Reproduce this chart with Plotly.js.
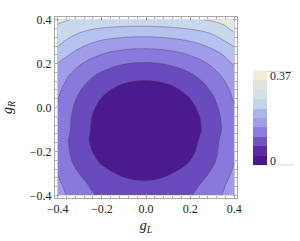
<!DOCTYPE html>
<html>
<head>
<meta charset="utf-8">
<script src="https://cdn.plot.ly/plotly-3.0.1.min.js"></script>
<style>html,body{margin:0;padding:0;background:#fff;}#chart{width:300px;height:241px;}</style>
</head>
<body>
<div id="chart"></div>
<script>
// Grid coordinates (g_L across, g_R up)
const gL = [-0.4, -0.35, -0.3, -0.25, -0.2, -0.15, -0.1, -0.05, 0.0, 0.05, 0.1, 0.15, 0.2, 0.25, 0.3, 0.35, 0.4];
const gR = [-0.4, -0.35, -0.3, -0.25, -0.2, -0.15, -0.1, -0.05, 0.0, 0.05, 0.1, 0.15, 0.2, 0.25, 0.3, 0.35, 0.4];
// Surface values estimated from the contour bands (rows follow gR, columns follow gL)
const zRows = [
  [0.1684, 0.1443, 0.1235, 0.1060, 0.0918, 0.0809, 0.0733, 0.0691, 0.0681, 0.0704, 0.0760, 0.0849, 0.0971, 0.1126, 0.1314, 0.1535, 0.1789],
  [0.1594, 0.1346, 0.1132, 0.0952, 0.0805, 0.0693, 0.0615, 0.0571, 0.0561, 0.0584, 0.0642, 0.0734, 0.0860, 0.1020, 0.1213, 0.1441, 0.1703],
  [0.1473, 0.1210, 0.0984, 0.0793, 0.0638, 0.0519, 0.0436, 0.0390, 0.0379, 0.0404, 0.0465, 0.0562, 0.0696, 0.0865, 0.1070, 0.1311, 0.1588],
  [0.1375, 0.1086, 0.0837, 0.0628, 0.0458, 0.0328, 0.0237, 0.0186, 0.0174, 0.0201, 0.0269, 0.0375, 0.0521, 0.0707, 0.0932, 0.1197, 0.1501],
  [0.1335, 0.1021, 0.0750, 0.0522, 0.0337, 0.0196, 0.0097, 0.0041, 0.0028, 0.0058, 0.0131, 0.0247, 0.0406, 0.0608, 0.0853, 0.1142, 0.1473],
  [0.1324, 0.0992, 0.0705, 0.0464, 0.0269, 0.0118, 0.0014, 0.0000, 0.0000, 0.0000, 0.0050, 0.0173, 0.0341, 0.0555, 0.0815, 0.1119, 0.1470],
  [0.1398, 0.1049, 0.0747, 0.0491, 0.0282, 0.0119, 0.0003, 0.0000, 0.0000, 0.0000, 0.0003, 0.0119, 0.0282, 0.0491, 0.0747, 0.1049, 0.1398],
  [0.1409, 0.1064, 0.0765, 0.0512, 0.0305, 0.0145, 0.0030, 0.0000, 0.0000, 0.0000, 0.0032, 0.0149, 0.0311, 0.0520, 0.0773, 0.1074, 0.1421],
  [0.1455, 0.1120, 0.0828, 0.0583, 0.0381, 0.0226, 0.0114, 0.0048, 0.0027, 0.0052, 0.0120, 0.0235, 0.0393, 0.0598, 0.0846, 0.1141, 0.1479],
  [0.1535, 0.1214, 0.0935, 0.0701, 0.0509, 0.0360, 0.0254, 0.0193, 0.0173, 0.0197, 0.0264, 0.0374, 0.0527, 0.0723, 0.0963, 0.1246, 0.1571],
  [0.1650, 0.1349, 0.1089, 0.0869, 0.0690, 0.0551, 0.0453, 0.0395, 0.0378, 0.0401, 0.0465, 0.0569, 0.0714, 0.0899, 0.1125, 0.1391, 0.1698],
  [0.1799, 0.1525, 0.1286, 0.1086, 0.0923, 0.0797, 0.0707, 0.0656, 0.0641, 0.0664, 0.0723, 0.0819, 0.0953, 0.1124, 0.1332, 0.1577, 0.1859],
  [0.1990, 0.1760, 0.1540, 0.1353, 0.1209, 0.1098, 0.1020, 0.0975, 0.0963, 0.0985, 0.1038, 0.1126, 0.1245, 0.1399, 0.1584, 0.1804, 0.2055],
  [0.2350, 0.2075, 0.1860, 0.1690, 0.1555, 0.1454, 0.1388, 0.1352, 0.1343, 0.1362, 0.1410, 0.1486, 0.1589, 0.1721, 0.1881, 0.2069, 0.2300],
  [0.2620, 0.2410, 0.2220, 0.2060, 0.1945, 0.1865, 0.1815, 0.1787, 0.1782, 0.1799, 0.1839, 0.1901, 0.1986, 0.2093, 0.2230, 0.2450, 0.2680],
  [0.2850, 0.2700, 0.2570, 0.2460, 0.2381, 0.2332, 0.2297, 0.2280, 0.2279, 0.2294, 0.2325, 0.2372, 0.2435, 0.2515, 0.2630, 0.2830, 0.3050],
  [0.3100, 0.3010, 0.2950, 0.2908, 0.2875, 0.2851, 0.2836, 0.2830, 0.2833, 0.2846, 0.2866, 0.2897, 0.2935, 0.2990, 0.3060, 0.3140, 0.3220]
];
// Contour levels of the plot
const levelStart = 0.05, levelEnd = 0.30, levelStep = 0.05;
// Band colours of the plot (lowest to highest band)
const bandColors = ['#4b1a8e', '#6a4bbd', '#8a79dc', '#a19ce9', '#b5c1ee', '#cad8ec', '#e8e5da'];
// Colour legend: range, band colours, tick labels
const legendRange = [0, 0.37];
const legendColors = ['#4a148c', '#5a2aa0', '#7055c0', '#8c7ee0', '#a0a0e8', '#adb6ea', '#c2d6ea', '#d3dfe6', '#e2e2dc', '#f3ead8'];
const legendTickText = ['0', '0.37'];
const xTicks = [-0.4, -0.2, 0.0, 0.2, 0.4];
const yTicks = [-0.4, -0.2, 0.0, 0.2, 0.4];

const plotScale = bandColors.map((c, i) => [i / (bandColors.length - 1), c]);
const legendScale = [];
legendColors.forEach((c, i) => {
  legendScale.push([i / legendColors.length, c]);
  legendScale.push([(i + 1) / legendColors.length, c]);
});
const bandH = (legendRange[1] - legendRange[0]) / legendColors.length;
const legendTickVals = [legendRange[0] + bandH / 2, legendRange[1] - bandH / 2];

const serif = '"Liberation Serif", "Times New Roman", serif';
const frameColor = '#a8a8a8';

const traces = [
  {
    type: 'contour',
    x: gL, y: gR, z: zRows,
    autocontour: false,
    contours: {start: levelStart, end: levelEnd, size: levelStep, coloring: 'fill'},
    colorscale: plotScale,
    line: {color: 'rgba(70,70,70,0.5)', width: 0.8, smoothing: 1.0},
    showscale: false,
    hoverinfo: 'skip'
  },
  {
    type: 'scatter', mode: 'markers',
    x: [gL[8], gL[8]], y: [gR[8], gR[8]],
    hoverinfo: 'skip', showlegend: false,
    marker: {
      size: 1, opacity: 0,
      color: legendRange, cmin: legendRange[0], cmax: legendRange[1],
      colorscale: legendScale, showscale: true,
      colorbar: {
        thickness: 14, thicknessmode: 'pixels',
        len: 94, lenmode: 'pixels',
        x: 1.088, xanchor: 'left', xpad: 0,
        y: 0.442, yanchor: 'middle', ypad: 0,
        outlinewidth: 0,
        tickvals: legendTickVals, ticktext: legendTickText,
        ticks: '', ticklen: 0,
        tickfont: {family: serif, size: 12, color: '#222'}
      }
    }
  }
];

const axisCommon = {
  showline: true, linecolor: frameColor, linewidth: 1, mirror: 'ticks',
  ticks: 'inside', ticklen: 4, tickcolor: frameColor, tickwidth: 1,
  showgrid: false, zeroline: false,
  tickfont: {family: serif, size: 12, color: '#222'},
  minor: {dtick: 0.04, tick0: 0, ticks: 'inside', ticklen: 2, tickcolor: frameColor, showgrid: false},
  range: [-0.412, 0.412], fixedrange: true
};

// thin rules at the top and bottom of the colour legend
const legendRule = (yp) => ({type: 'line', xref: 'paper', yref: 'paper', x0: 1.088, x1: 1.31, y0: yp, y1: yp,
  line: {color: '#d4d4d4', width: 1}});

const layout = {
  width: 300, height: 241,
  margin: {l: 55, r: 63, t: 17, b: 43, pad: 0},
  paper_bgcolor: '#fff', plot_bgcolor: '#fff',
  showlegend: false,
  shapes: [legendRule(0.700), legendRule(0.183)],
  xaxis: Object.assign({}, axisCommon, {
    tickvals: xTicks, tickformat: '.1f',
    title: {text: '<i>g</i><sub><i>L</i></sub>', font: {family: serif, size: 14, color: '#222'}, standoff: 4}
  }),
  yaxis: Object.assign({}, axisCommon, {
    tickvals: yTicks, tickformat: '.1f',
    title: {text: '<i>g</i><sub><i>R</i></sub>', font: {family: serif, size: 14, color: '#222'}, standoff: 14}
  })
};

Plotly.newPlot('chart', traces, layout, {displayModeBar: false, staticPlot: true});
</script>
</body>
</html>
